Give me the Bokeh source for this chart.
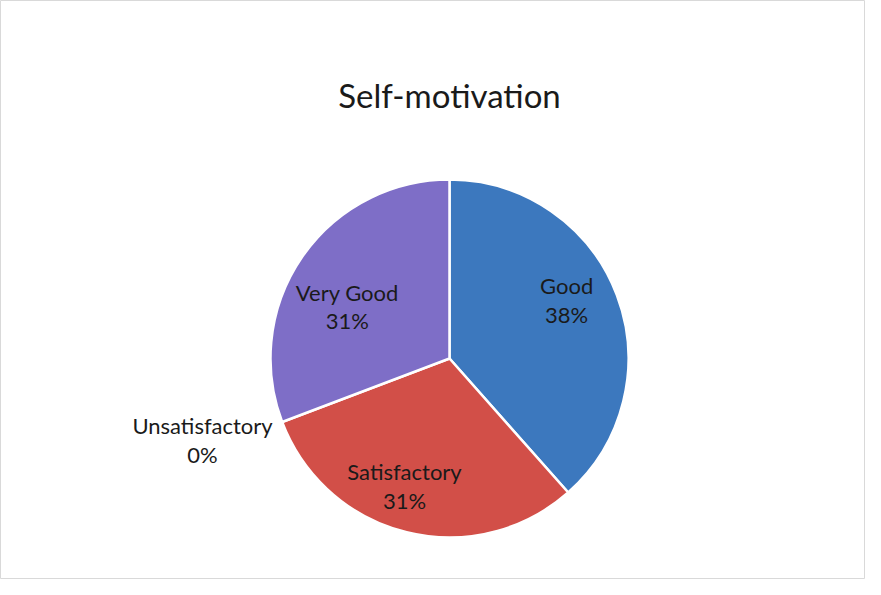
import math
from bokeh.plotting import figure
from bokeh.models import Range1d, ColumnDataSource, Label
from bokeh.core.properties import value
from bokeh.embed import file_html
from bokeh.resources import INLINE

# ---- data ----
categories = ["Good", "Satisfactory", "Unsatisfactory", "Very Good"]
counts = [5, 4, 0, 4]
colors = ["#3C78BE", "#D24F48", "#9B8BD0", "#7E6EC7"]
title_text = "Self-motivation"

# ---- layout (styling) ----
W, H = 865, 579
cx, cy = 449, 221          # pie centre in plot units (pixels)
R = 179
label_r_in = 0.70
label_r_out = 1.38
nudges = [(0, 14), (-15, -6), (-16, 6), (1, -19)]

total = float(sum(counts))
starts, ends, mids, pcts = [], [], [], []
cum = 0.0
for v in counts:
    a0 = math.pi / 2 - cum / total * 2 * math.pi
    cum += v
    a1 = math.pi / 2 - cum / total * 2 * math.pi
    starts.append(a0)
    ends.append(a1)
    mids.append((a0 + a1) / 2)
    pcts.append(round(v / total * 100))

p = figure(width=W, height=H, x_range=Range1d(0, W), y_range=Range1d(0, H),
           output_backend="svg", toolbar_location=None, min_border=0)
p.axis.visible = False
p.grid.visible = False
p.outline_line_color = "#d9d9d9"
p.outline_line_width = 1
p.background_fill_color = "white"
p.border_fill_color = "white"

idx = [i for i, v in enumerate(counts) if v > 0]
src = ColumnDataSource(dict(
    x=[cx] * len(idx), y=[cy] * len(idx),
    start=[starts[i] for i in idx], end=[ends[i] for i in idx],
    color=[colors[i] for i in idx],
))
p.wedge(x="x", y="y", radius=R, start_angle="start", end_angle="end",
        direction="clock", fill_color="color", line_color="white",
        line_width=2.5, source=src)

lx, ly, lt = [], [], []
for i, (c, v) in enumerate(zip(categories, counts)):
    rr = (label_r_in if v > 0 else label_r_out) * R
    lx.append(cx + rr * math.cos(mids[i]) + nudges[i][0])
    ly.append(cy + rr * math.sin(mids[i]) + nudges[i][1])
    lt.append(f"{c}\n{pcts[i]}%")

p.text(x=lx, y=ly, text=lt, text_align="center", text_baseline="middle",
       text_font=value("Lato"), text_font_size="22px", text_color="#1a1a1a",
       text_line_height=1.05)

p.add_layout(Label(x=cx, y=H - 94, text=title_text, text_align="center",
                   text_baseline="middle", text_font="Lato",
                   text_font_size="33px", text_color="#1a1a1a"))

open("out.html", "w").write(file_html(p, INLINE))
